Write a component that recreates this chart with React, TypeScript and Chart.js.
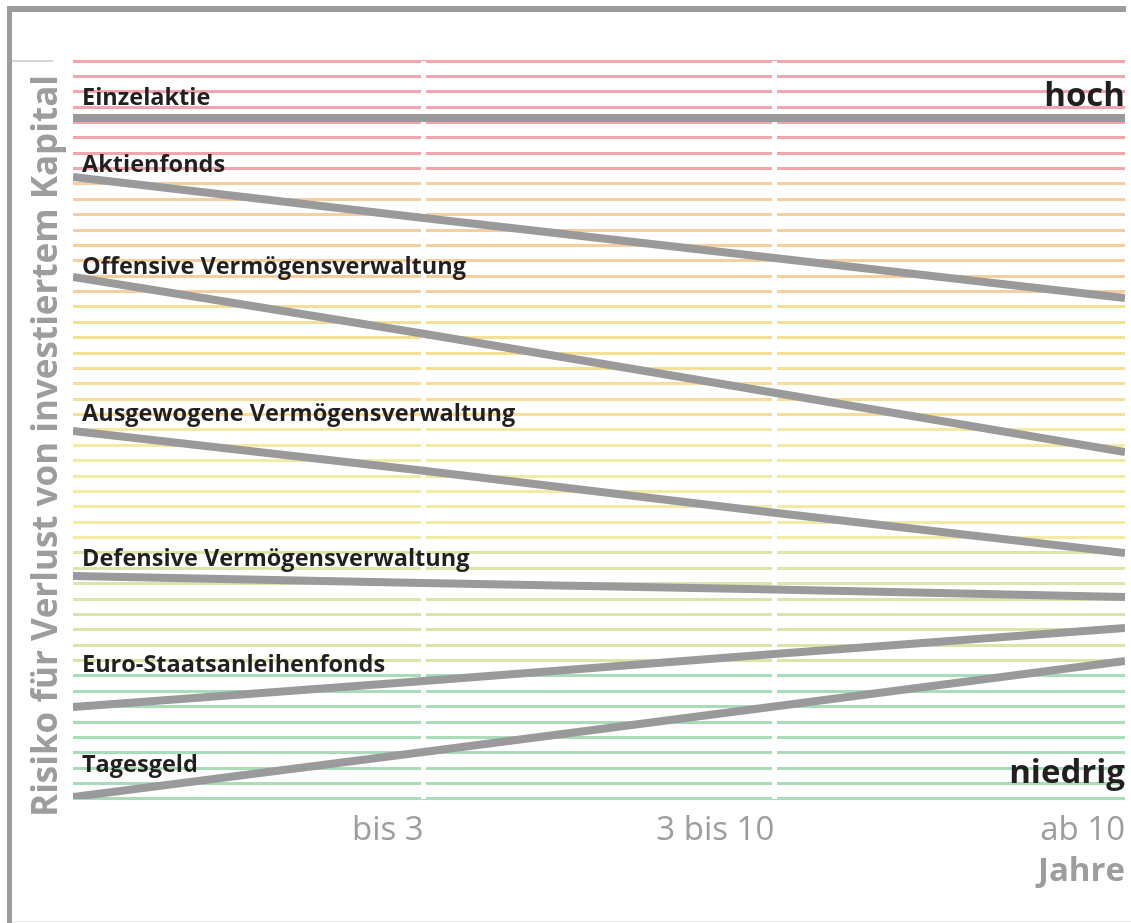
import React, { useEffect, useRef } from 'react';
import { Chart, registerables } from 'chart.js';

Chart.register(...registerables);

// ---------- data ----------
const periods = [0, 1, 2, 3];
const tickLabels = ['', 'bis 3', '3 bis 10', 'ab 10'];
const xAxisTitle = 'Jahre';
const yAxisTitle = 'Risiko für Verlust von investiertem Kapital';

const seriesNames = [
  'Einzelaktie',
  'Aktienfonds',
  'Offensive Vermögensverwaltung',
  'Ausgewogene Vermögensverwaltung',
  'Defensive Vermögensverwaltung',
  'Euro-Staatsanleihenfonds',
  'Tagesgeld',
];
const einzelaktie = [44.3, 44.3, 44.3, 44.3];
const aktienfonds = [40.46, 37.79, 35.19, 32.59];
const offensive = [33.95, 30.26, 26.42, 22.57];
const ausgewogene = [23.93, 21.35, 18.62, 16.0];
const defensive = [14.5, 14.05, 13.63, 13.14];
const euroStaatsanleihen = [5.98, 7.67, 9.43, 11.12];
const tagesgeld = [0.13, 3.06, 6.02, 8.98];
const seriesValues = [einzelaktie, aktienfonds, offensive, ausgewogene, defensive, euroStaatsanleihen, tagesgeld];

// risk level at which each series name is written (baseline)
const labelLevels = [45.14, 40.8, 34.15, 24.59, 15.15, 8.26, 1.78];

const cornerLabels = ['hoch', 'niedrig'];
const cornerLevels = [45.07, 1.06];

const riskMax = 48;
const riskBandColors = ['#f2a5ab', '#f6cfa1', '#f5df95', '#f3eaa4', '#dbe5aa', '#a9dcb8'];
const riskBandSizes = [8, 8, 8, 8, 8, 9];

const FONT = "'Open Sans', sans-serif";

function bandColor(value: number): string {
  const fromTop = riskMax - value;
  let acc = 0;
  for (let i = 0; i < riskBandSizes.length; i++) {
    acc += riskBandSizes[i];
    if (fromTop < acc) return riskBandColors[i];
  }
  return riskBandColors[riskBandColors.length - 1];
}

const textPlugin = {
  id: 'riskTexts',
  afterDatasetsDraw(chart: any) {
    const { ctx, chartArea, scales } = chart;
    const y = scales.y;
    ctx.save();
    // series names
    ctx.fillStyle = '#231f20';
    ctx.font = `bold 23.5px ${FONT}`;
    ctx.textAlign = 'left';
    ctx.textBaseline = 'alphabetic';
    seriesNames.forEach((name, i) => {
      ctx.fillText(name, chartArea.left + 9, y.getPixelForValue(labelLevels[i]));
    });
    // hoch / niedrig
    ctx.font = `bold 33px ${FONT}`;
    ctx.textAlign = 'right';
    cornerLabels.forEach((t, i) => {
      ctx.fillText(t, chartArea.right, y.getPixelForValue(cornerLevels[i]));
    });
    // y axis title
    ctx.fillStyle = '#9d9d9d';
    ctx.font = `bold 35px ${FONT}`;
    ctx.textAlign = 'center';
    ctx.translate(57, 446);
    ctx.rotate(-Math.PI / 2);
    ctx.fillText(yAxisTitle, 0, 0);
    ctx.restore();
  },
};

export default function App() {
  const canvasRef = useRef<HTMLCanvasElement | null>(null);

  useEffect(() => {
    if (!canvasRef.current) return;
    const chart = new Chart(canvasRef.current, {
      type: 'line',
      data: {
        datasets: seriesNames.map((name, i) => ({
          label: name,
          data: periods.map((p, j) => ({ x: p, y: seriesValues[i][j] })),
          borderColor: '#9a9a9c',
          borderWidth: 8,
          borderCapStyle: 'butt',
          pointRadius: 0,
          tension: 0,
          fill: false,
        })),
      },
      options: {
        animation: false,
        responsive: false,
        events: [],
        layout: { padding: { top: 61, left: 73, right: 6, bottom: 41.6 } },
        plugins: { legend: { display: false }, tooltip: { enabled: false } },
        scales: {
          x: {
            type: 'linear',
            min: 0,
            max: 3,
            border: { display: false },
            grid: {
              z: 0,
              drawTicks: false,
              lineWidth: 5,
              color: (c: any) => (c.tick && (c.tick.value === 1 || c.tick.value === 2) ? '#ffffff' : 'rgba(0,0,0,0)'),
            },
            ticks: {
              stepSize: 1,
              autoSkip: false,
              maxRotation: 0,
              align: 'end',
              padding: 5,
              color: '#9d9d9d',
              font: { family: FONT, size: 33, lineHeight: 1.624 },
              callback: (v: any) => tickLabels[Number(v)] ?? '',
            },
            title: {
              display: true,
              text: xAxisTitle,
              align: 'end',
              color: '#9d9d9d',
              padding: { top: 0, bottom: 0 },
              font: { family: FONT, size: 33, weight: 'bold', lineHeight: 0.57 },
            },
          },
          y: {
            type: 'linear',
            min: 0,
            max: riskMax,
            border: { display: false },
            grid: {
              z: -1,
              drawTicks: false,
              lineWidth: 3,
              color: (c: any) => (c.tick ? bandColor(c.tick.value) : 'rgba(0,0,0,0)'),
            },
            ticks: { stepSize: 1, display: false, autoSkip: false },
          },
        },
      },
      plugins: [textPlugin],
    } as any);
    return () => chart.destroy();
  }, []);

  return (
    <div style={{ position: 'absolute', left: 0, top: 0, width: 1131, height: 923, background: '#ffffff' }}>
      <canvas ref={canvasRef} width={1131} height={923} style={{ display: 'block', width: 1131, height: 923 }} />
      <div style={{ position: 'absolute', left: 7, top: 6, width: 1119, height: 6, background: '#9c9c9c' }} />
      <div style={{ position: 'absolute', left: 7, top: 6, width: 5, height: 917, background: '#9c9c9c' }} />
      <div style={{ position: 'absolute', left: 12, top: 60, width: 41, height: 2, background: '#d6d6d6' }} />
      <div style={{ position: 'absolute', left: 12, top: 921, width: 1119, height: 1, background: '#e8e8e8' }} />
    </div>
  );
}
